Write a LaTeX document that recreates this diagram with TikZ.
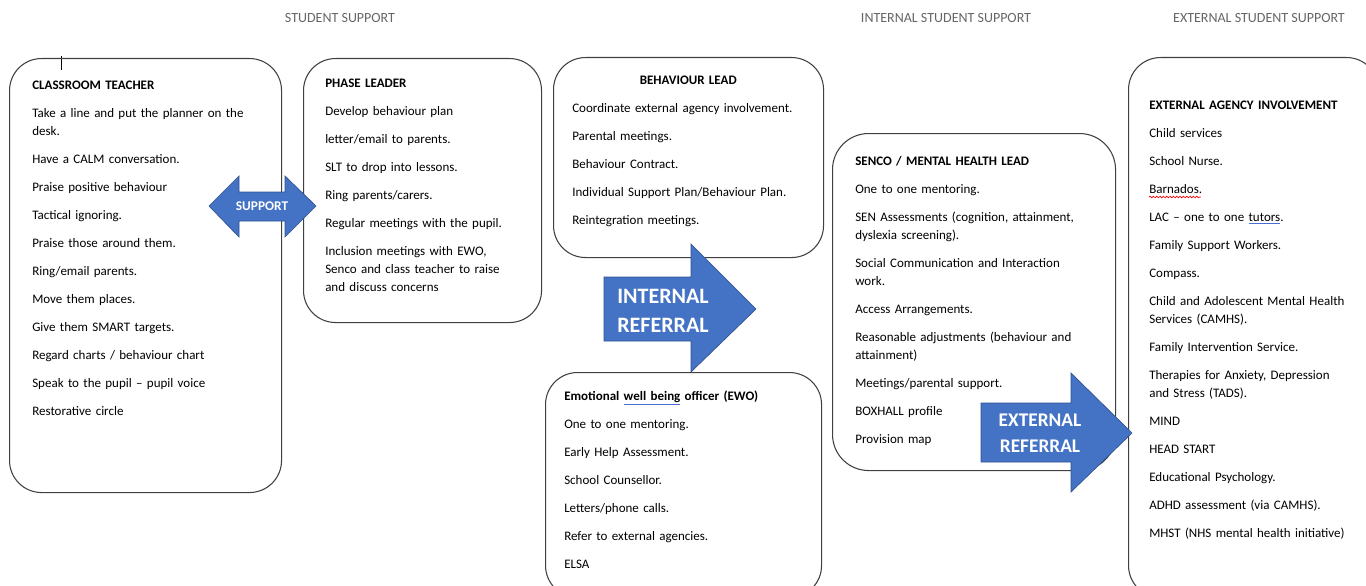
\documentclass[tikz,border=0pt]{standalone}
\usepackage{fontspec}
\setmainfont{Carlito}
\usetikzlibrary{decorations.pathmorphing}
\definecolor{refblue}{HTML}{4472C4}
\definecolor{refedge}{HTML}{2F528F}
\definecolor{gramblue}{HTML}{4A6FD0}
\hyphenpenalty=10000
\exhyphenpenalty=10000
\newcommand{\nextitem}{\\[7.5pt]}
\newcommand{\gramline}[1]{\textcolor{gramblue}{\underline{\textcolor{black}{#1}}}}

\begin{document}
\begin{tikzpicture}[x=0.75pt, y=-0.75pt,
	card/.style={draw=black!75, line width=0.8pt, rounded corners=24pt, anchor=north west, inner sep=0pt},
	cardtext/.style={anchor=base west, inner sep=0pt, align=left, font=\fontsize{9.75}{13.5}\selectfont},
	topic/.style={text=black!60, inner sep=0pt, font=\fontsize{10.5}{12}\selectfont},
	blockarrow/.style={fill=refblue, draw=refedge, line width=0.5pt},
	arrowtext/.style={text=white, inner sep=0pt, align=center},
	spellwave/.style={red, line width=0.5pt, decorate, decoration={snake, amplitude=0.6pt, segment length=2.5pt}}]
	\useasboundingbox (0,0) rectangle (1366,585);

	\node [topic] (studentsupport)  at (340,18)  {STUDENT SUPPORT};
	\node [topic] (internalsupport) at (946,18)  {INTERNAL STUDENT SUPPORT};
	\node [topic] (externalsupport) at (1259,18) {EXTERNAL STUDENT SUPPORT};
	\draw [line width=0.6pt] (61,56) -- (61,70);

	\node [card, minimum width=204pt,    minimum height=325.5pt]  (teacherbox)   at (9,58)    {};
	\node [card, minimum width=178.5pt,  minimum height=198pt]    (phasebox)     at (303,58)  {};
	\node [card, minimum width=202.5pt,  minimum height=150pt]    (behaviourbox) at (553,57)  {};
	\node [card, minimum width=207pt,    minimum height=168.75pt] (ewobox)       at (545,372) {};
	\node [card, minimum width=212.25pt, minimum height=252.75pt, rounded corners=27pt] (sencobox) at (832,133) {};
	\node [card, minimum width=187.5pt,  minimum height=405pt]    (agencybox)    at (1128,57) {};

	\node [cardtext, text width=180pt] (teacher) at (32,89.5) {
		\textbf{CLASSROOM TEACHER}\nextitem
		Take a line and put the planner on the\\
		desk.\nextitem
		Have a CALM conversation.\nextitem
		Praise positive behaviour\nextitem
		Tactical ignoring.\nextitem
		Praise those around them.\nextitem
		Ring/email parents.\nextitem
		Move them places.\nextitem
		Give them SMART targets.\nextitem
		Regard charts / behaviour chart\nextitem
		Speak to the pupil – pupil voice\nextitem
		Restorative circle};
	\node [cardtext, text width=157.5pt] (phase) at (325,87.5) {
		\textbf{PHASE LEADER}\nextitem
		Develop behaviour plan\nextitem
		letter/email to parents.\nextitem
		SLT to drop into lessons.\nextitem
		Ring parents/carers.\nextitem
		Regular meetings with the pupil.\nextitem
		Inclusion meetings with EWO,\\
		Senco and class teacher to raise\\
		and discuss concerns};
	\node [cardtext, text width=174pt] (behaviour) at (572,84.5) {
		\makebox[\linewidth]{\textbf{BEHAVIOUR LEAD}}\nextitem
		Coordinate external agency involvement.\nextitem
		Parental meetings.\nextitem
		Behaviour Contract.\nextitem
		Individual Support Plan/Behaviour Plan.\nextitem
		Reintegration meetings.};
	\node [cardtext, text width=165pt] (ewo) at (564,400.5) {
		\textbf{Emotional \gramline{well being} officer (EWO)}\nextitem
		One to one mentoring.\nextitem
		Early Help Assessment.\nextitem
		School Counsellor.\nextitem
		Letters/phone calls.\nextitem
		Refer to external agencies.\nextitem
		ELSA};
	\node [cardtext, text width=183.75pt] (senco) at (855,165.5) {
		\textbf{SENCO / MENTAL HEALTH LEAD}\nextitem
		One to one mentoring.\nextitem
		SEN Assessments (cognition, attainment,\\
		dyslexia screening).\nextitem
		Social Communication and Interaction\\
		work.\nextitem
		Access Arrangements.\nextitem
		Reasonable adjustments (behaviour and\\
		attainment)\nextitem
		Meetings/parental support.\nextitem
		BOXHALL profile\nextitem
		Provision map};
	\node [cardtext, text width=161.25pt] (agency) at (1149,109.5) {
		\textbf{EXTERNAL AGENCY INVOLVEMENT}\nextitem
		Child services\nextitem
		School Nurse.\nextitem
		Barnados.\nextitem
		LAC – one to one \gramline{tutors}.\nextitem
		Family Support Workers.\nextitem
		Compass.\nextitem
		Child and Adolescent Mental Health\\
		Services (CAMHS).\nextitem
		Family Intervention Service.\nextitem
		Therapies for Anxiety, Depression\\
		and Stress (TADS).\nextitem
		MIND\nextitem
		HEAD START\nextitem
		Educational Psychology.\nextitem
		ADHD assessment (via CAMHS).\nextitem
		MHST (NHS mental health initiative)};
	\draw [spellwave] (1149,197) -- (1201,197);

	% block arrows
	\filldraw [blockarrow] (209,206) -- (239,176) -- (239,192) -- (285,192) -- (285,176) -- (316,206)
		-- (285,237) -- (285,221) -- (239,221) -- (239,237) -- cycle;
	\node [arrowtext, font=\bfseries\fontsize{10}{12}\selectfont] (support) at (262,206) {SUPPORT};

	\filldraw [blockarrow] (604,277) -- (691,277) -- (691,244) -- (756,309) -- (691,372) -- (691,341) -- (604,341) -- cycle;
	\node [arrowtext, font=\bfseries\fontsize{16.5}{21.5}\selectfont] (internal) at (663,311) {INTERNAL\\REFERRAL};

	\filldraw [blockarrow] (981,403) -- (1071,403) -- (1071,373) -- (1132,433) -- (1071,492) -- (1071,462) -- (981,462) -- cycle;
	\node [arrowtext, font=\bfseries\fontsize{14.5}{19.5}\selectfont] (external) at (1040,433) {EXTERNAL\\REFERRAL};
\end{tikzpicture}
\end{document}
